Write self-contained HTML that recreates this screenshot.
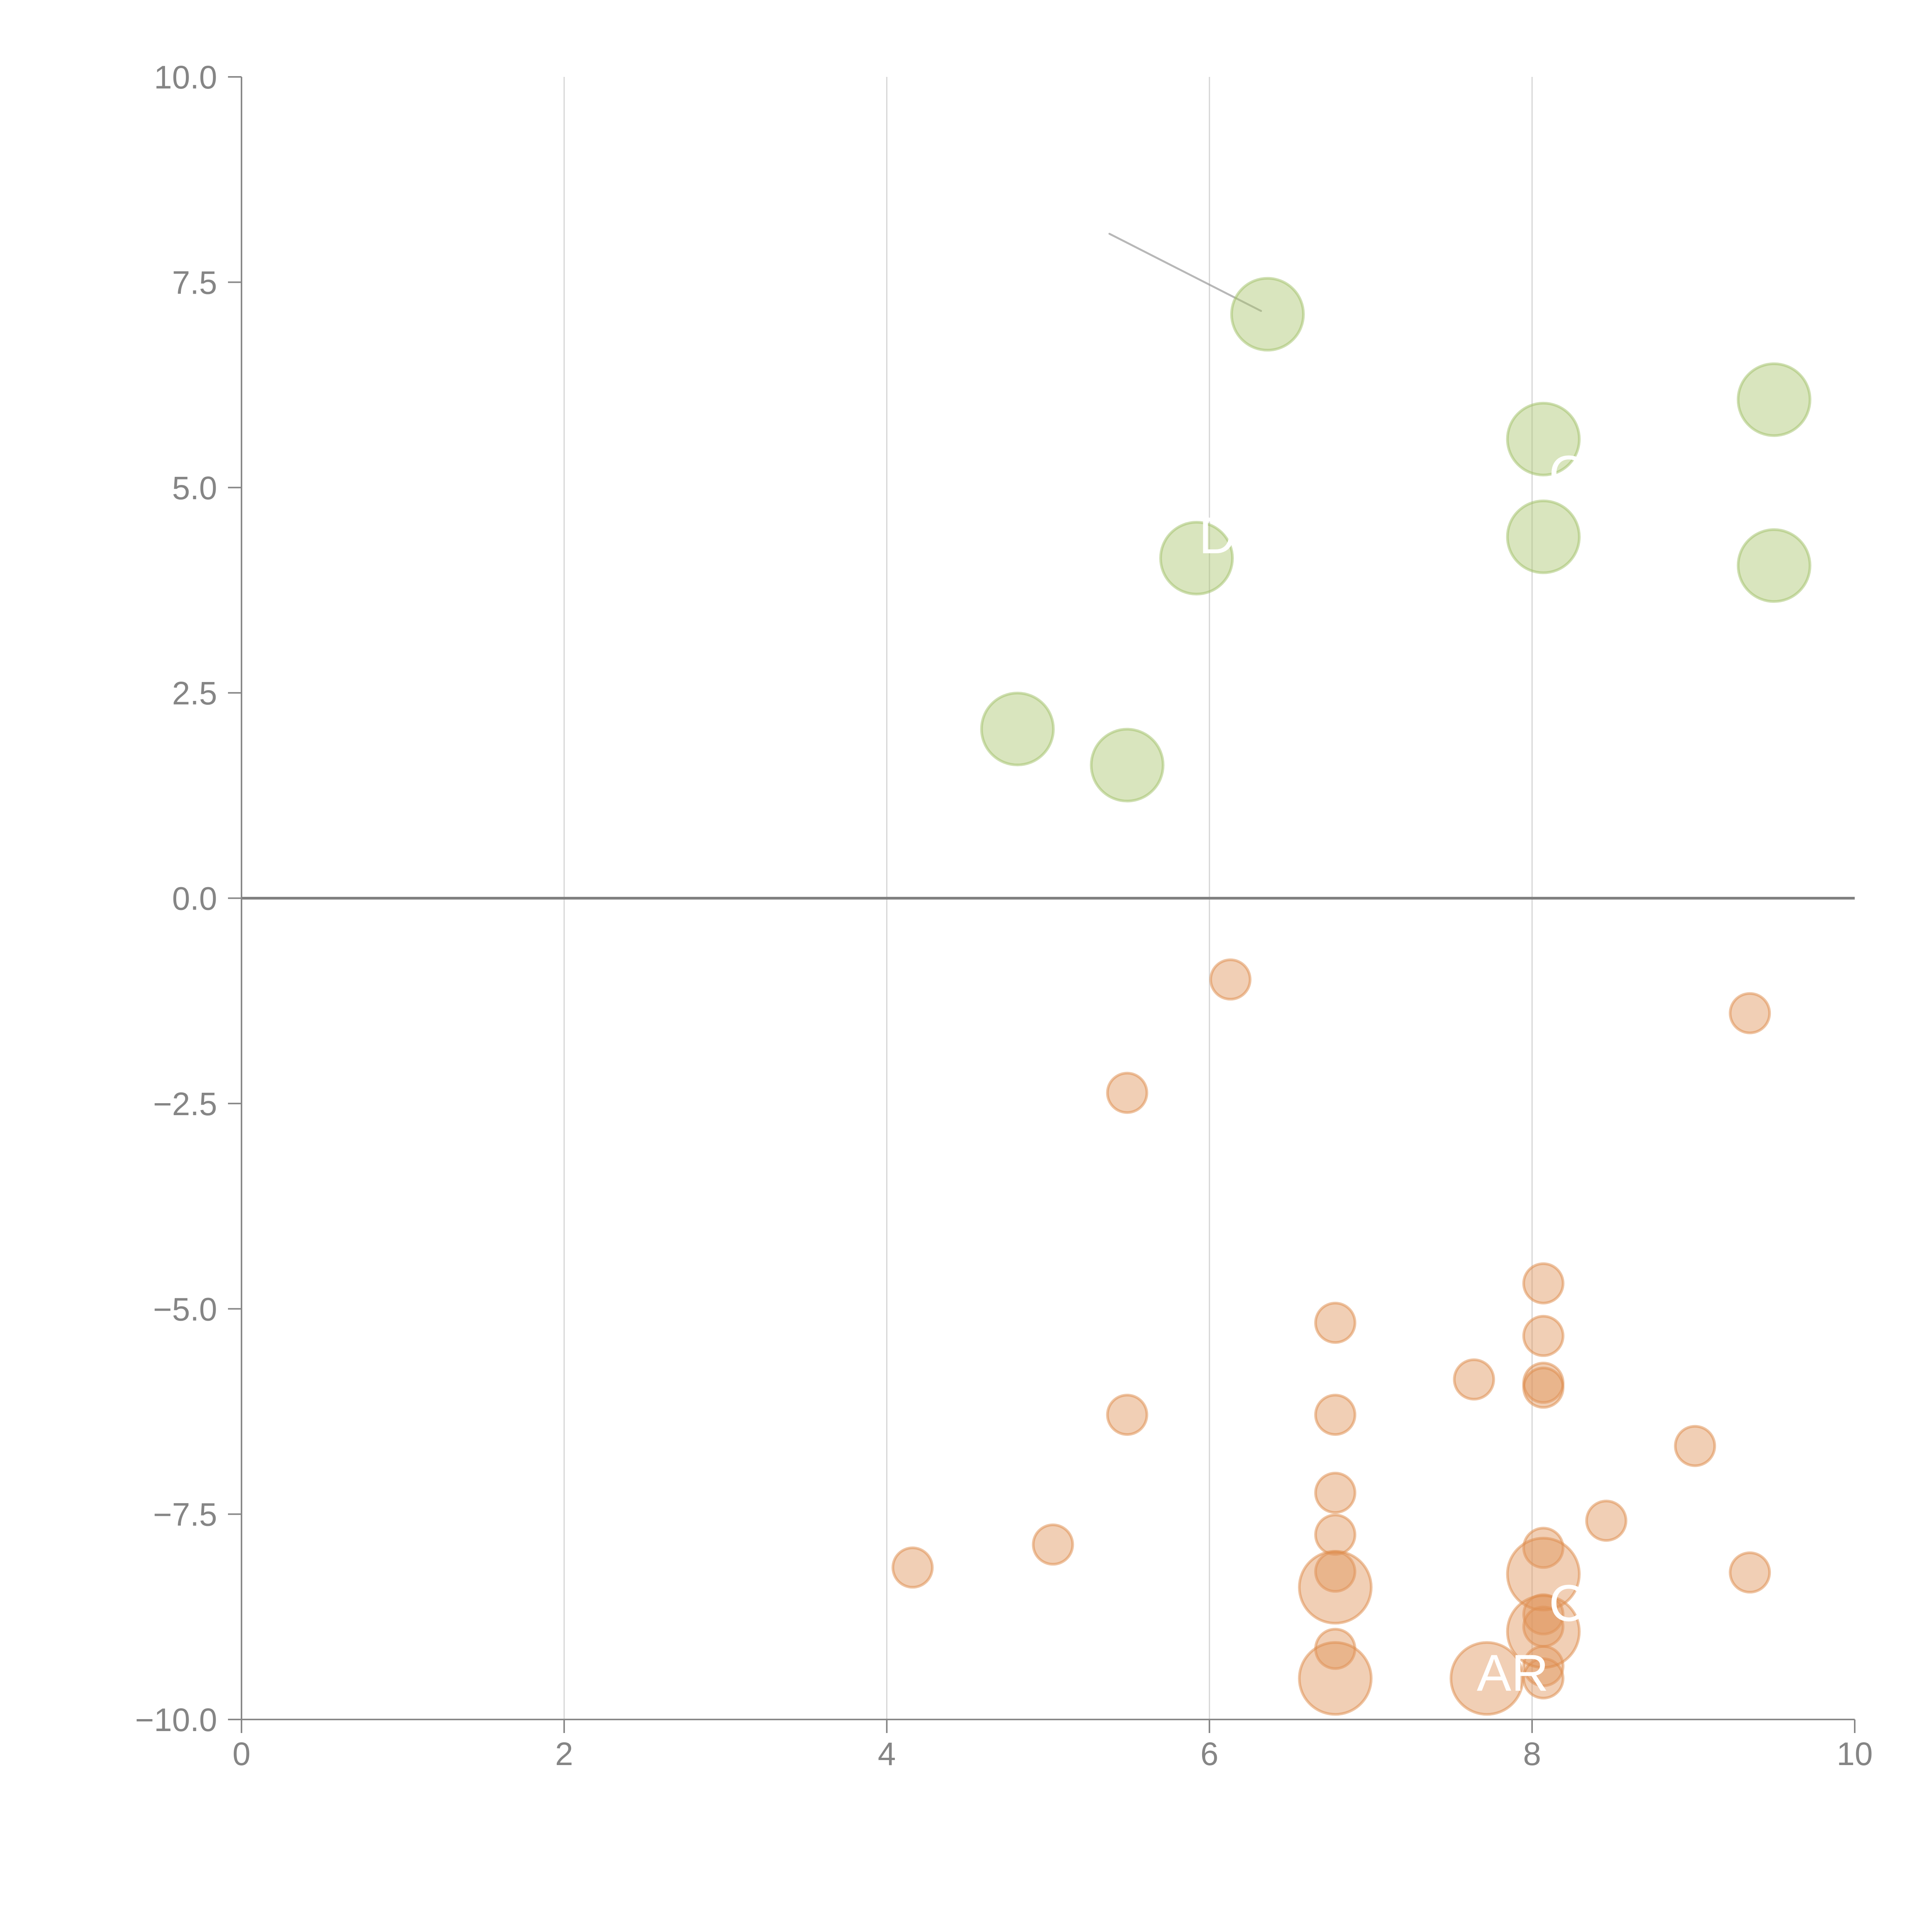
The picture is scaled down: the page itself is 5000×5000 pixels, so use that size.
<!DOCTYPE html>
<html><head><meta charset="utf-8"><style>
html,body{margin:0;padding:0;background:#fff;}
svg{display:block;font-family:"Liberation Sans",sans-serif;}
</style></head><body>
<svg id="chart" width="5000" height="5000" viewBox="0 0 5000 5000" xmlns="http://www.w3.org/2000/svg">
<rect width="5000" height="5000" fill="#fff"/>
<g id="grid"></g>
<g id="marks"></g>
<g id="labels"></g>
<g id="axes"></g>
</svg>
<script>
const xTicks = [0, 2, 4, 6, 8, 10];
const yTicks = [-10, -7.5, -5, -2.5, 0, 2.5, 5, 7.5, 10];
const yTickLabels = ["\u221210.0", "\u22127.5", "\u22125.0", "\u22122.5", "0.0", "2.5", "5.0", "7.5", "10.0"];
const greenX = [6.36, 8.07, 9.50, 8.07, 9.50, 5.92, 4.81, 5.49];
const greenY = [7.11, 5.59, 6.07, 4.40, 4.05, 4.14, 2.06, 1.62];
const orangeX = [6.13, 9.35, 5.49, 8.07, 6.78, 8.07, 7.64, 8.07, 8.07, 5.49, 6.78, 9.01, 6.78, 8.46, 6.78, 5.03, 8.07, 4.16, 6.78, 9.35, 8.07, 8.07, 6.78, 8.07, 8.07];
const orangeY = [-0.99, -1.40, -2.37, -4.69, -5.17, -5.33, -5.86, -5.90, -5.96, -6.29, -6.29, -6.67, -7.24, -7.58, -7.75, -7.87, -7.91, -8.15, -8.20, -8.21, -8.72, -8.87, -9.14, -9.35, -9.50];
const bigX = [6.78, 8.07, 8.07, 6.78, 7.72];
const bigY = [-8.39, -8.23, -8.93, -9.50, -9.50];
const labelText = ["AR", "C", "C", "D", "C", "C", "/"];
const labelX = [7.88, 7.05, 8.22, 6.05, 8.22, 9.05, 6.92];
const labelY = [-9.65, -9.30, -8.80, 4.20, 4.95, -7.50, -7.55];

const X0 = 625, X1 = 4800, Y0 = 4450, Y1 = 199;
const sx = v => X0 + (v - 0) / 10 * (X1 - X0);
const sy = v => Y0 - (v + 10) / 20 * (Y0 - Y1);
const NS = "http://www.w3.org/2000/svg";
function mk(tag, parent, attrs) {
  const e = document.createElementNS(NS, tag);
  for (const k in attrs) e.setAttribute(k, attrs[k]);
  parent.appendChild(e);
  return e;
}
const grid = document.getElementById('grid');
const marks = document.getElementById('marks');
const labels = document.getElementById('labels');
const axes = document.getElementById('axes');

xTicks.forEach(t => {
  if (t === 0 || t === 10) return;
  const l = mk('line', grid, {x1: sx(t), x2: sx(t), y1: Y1, y2: Y0, stroke: '#d4d4d4', 'stroke-width': 3});
  
  
});

// leader line
const ld = mk('line', marks, {x1: sx(5.38), y1: sy(8.09), x2: sx(6.32), y2: sy(7.15), stroke: '#999', 'stroke-width': 5, 'stroke-opacity': 0.7, 'stroke-linecap': 'round'});



function bubble(x, y, r, fill, stroke, name) {
  const c = mk('circle', marks, {cx: sx(x), cy: sy(y), r: r, fill: fill, 'fill-opacity': 0.45, stroke: stroke, 'stroke-opacity': 0.5, 'stroke-width': 7});
  
  
}
greenX.forEach((x, i) => bubble(x, greenY[i], 93, '#aac66e', '#9fc066', 'green-bubble'));
orangeX.forEach((x, i) => bubble(x, orangeY[i], 51, '#e0955a', '#dd8a48', 'orange-bubble'));
bigX.forEach((x, i) => bubble(x, bigY[i], 93, '#e0955a', '#dd8a48', 'orange-bubble-large'));

labelText.forEach((t, i) => {
  const tx = mk('text', labels, {x: sx(labelX[i]), y: sy(labelY[i]), fill: '#fff', 'font-size': 134, 'text-anchor': 'middle'});
  tx.textContent = t;
  
  
});

// zero line
const z = mk('line', axes, {x1: X0, x2: X1, y1: sy(0), y2: sy(0), stroke: '#808080', 'stroke-width': 7});


// axis lines
const ya = mk('line', axes, {x1: X0, x2: X0, y1: Y1, y2: Y0, stroke: '#888', 'stroke-width': 4});


const xa = mk('line', axes, {x1: X0, x2: X1, y1: Y0, y2: Y0, stroke: '#888', 'stroke-width': 4});



yTicks.forEach((t, i) => {
  const tk = mk('line', axes, {x1: X0 - 35, x2: X0, y1: sy(t), y2: sy(t), stroke: '#888', 'stroke-width': 4});
  
  
  const tx = mk('text', axes, {x: 562, y: sy(t) + 30, fill: '#858585', 'font-size': 84, 'text-anchor': 'end'});
  tx.textContent = yTickLabels[i];
  
  
});
xTicks.forEach(t => {
  const tk = mk('line', axes, {x1: sx(t), x2: sx(t), y1: Y0, y2: Y0 + 35, stroke: '#888', 'stroke-width': 4});
  
  
  const tx = mk('text', axes, {x: sx(t), y: 4568, fill: '#858585', 'font-size': 84, 'text-anchor': 'middle'});
  tx.textContent = String(t);
  
  
});
</script>
</body></html>
